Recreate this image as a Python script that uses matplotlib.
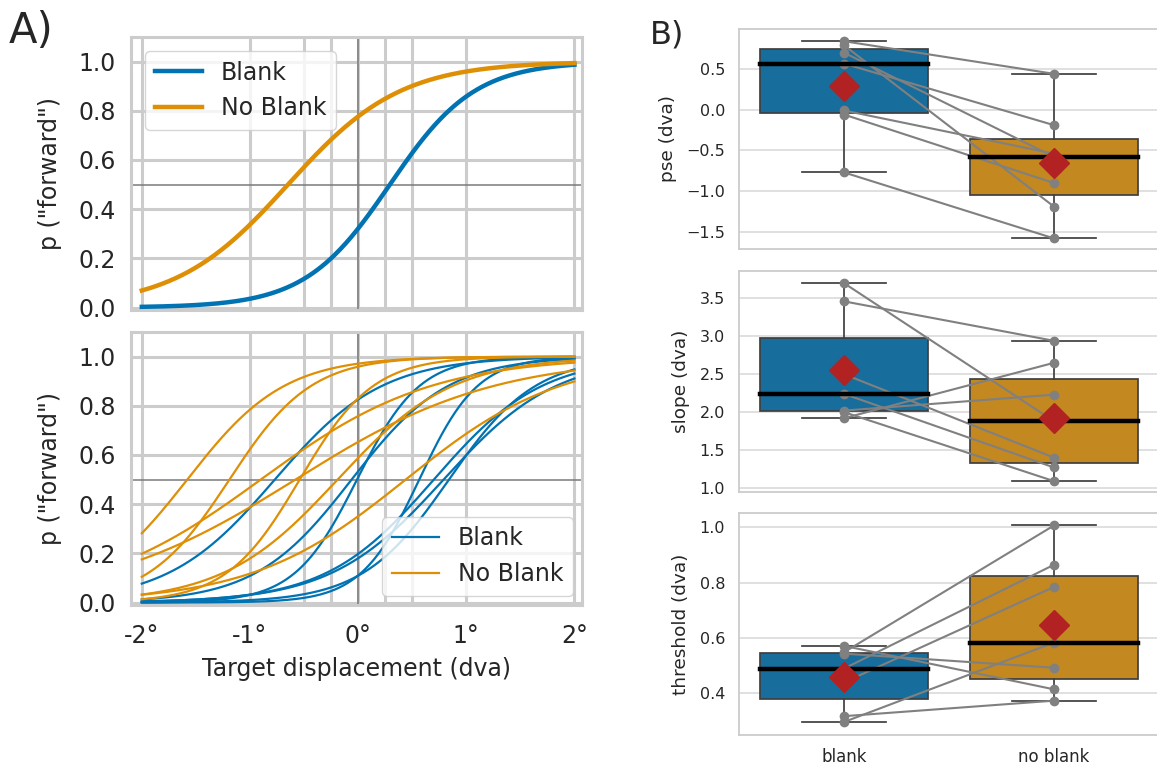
import numpy as np
import matplotlib
matplotlib.use("Agg")
import matplotlib.pyplot as plt
import matplotlib.ticker as mticker
import colorsys

# ---------------- data ----------------
conditions = ["blank", "no blank"]
# per-participant psychometric fit parameters (7 participants, paired)
pse_blank = [0.565, -0.01, 0.84, -0.06, -0.77, 0.70, 0.79]
pse_noblank = [-0.19, -0.54, 0.44, -0.90, -1.58, -0.58, -1.19]
slope_blank = [3.70, 3.46, 2.50, 2.24, 2.02, 2.00, 1.92]
slope_noblank = [1.88, 2.94, 1.40, 1.27, 2.23, 1.09, 2.65]
thr_blank = [0.297, 0.318, 0.44, 0.49, 0.544, 0.549, 0.572]
thr_noblank = [0.584, 0.374, 0.785, 0.865, 0.493, 1.007, 0.415]
x_ticks = [-2, -1, 0, 1, 2]
x_minor = [-0.5, -0.25, 0.25, 0.5]
y_ticks_p = [0.0, 0.2, 0.4, 0.6, 0.8, 1.0]

# ---------------- style ----------------
BLUE = "#0173b2"
ORANGE = "#de8f05"
TXT = "#262626"
GRID = "#cccccc"


def desat(c, prop=0.75):
    r, g, b = matplotlib.colors.to_rgb(c)
    h, l, s = colorsys.rgb_to_hls(r, g, b)
    return colorsys.hls_to_rgb(h, l, s * prop)


plt.rcParams["font.family"] = ["DejaVu Sans"]
plt.rcParams["axes.axisbelow"] = True
plt.rcParams["axes.unicode_minus"] = True

W, H = 1157, 767
fig = plt.figure(figsize=(W / 100, H / 100), dpi=100)


def ax_px(left, top, right, bottom):
    return fig.add_axes([left / W, 1 - bottom / H, (right - left) / W, (bottom - top) / H])


def logistic(x, pse, slope):
    return 1.0 / (1.0 + np.exp(-slope * (x - pse)))


xs = np.linspace(-2, 2, 400)

axA1 = ax_px(131, 37, 582, 310)
axA2 = ax_px(131, 332, 582, 605)

for ax in (axA1, axA2):
    ax.set_xlim(-2.1, 2.07)
    ax.set_ylim(-0.01, 1.1)
    ax.set_xticks(x_ticks)
    ax.set_xticks(x_minor, minor=True)
    ax.set_yticks(y_ticks_p)
    ax.grid(True, which="both", color=GRID, lw=2.2)
    ax.tick_params(which="both", length=0, labelsize=17, colors=TXT)
    ax.tick_params(axis="y", pad=11)
    ax.tick_params(axis="x", pad=14)
    for sp in ax.spines.values():
        sp.set_color(GRID)
        sp.set_linewidth(2.2)
    ax.axvline(0, color="#7a7a7a", lw=1.1, zorder=1.5)
    ax.axhline(0.5, color="#7a7a7a", lw=1.1, zorder=1.5)
    ax.set_ylabel('p ("forward")', fontsize=17, color=TXT, labelpad=12)
    ax.yaxis.set_major_formatter(mticker.FormatStrFormatter("%.1f"))

# top: group-average curves from mean parameters
mb_pse, mb_slope = np.mean(pse_blank), np.mean(slope_blank)
mn_pse, mn_slope = np.mean(pse_noblank), np.mean(slope_noblank)
axA1.plot(xs, logistic(xs, mb_pse, mb_slope), color=BLUE, lw=3.2, label="Blank", zorder=3)
axA1.plot(xs, logistic(xs, mn_pse, mn_slope), color=ORANGE, lw=3.2, label="No Blank", zorder=3)
axA1.set_xticklabels([])
leg1 = axA1.legend(loc="upper left", fontsize=17, frameon=True, borderaxespad=0.6)
leg1.get_frame().set_edgecolor(GRID)
for t in leg1.get_texts():
    t.set_color(TXT)

# bottom: individual curves
for i in range(len(pse_blank)):
    axA2.plot(xs, logistic(xs, pse_blank[i], slope_blank[i]), color=BLUE, lw=1.6,
              label="Blank" if i == 0 else None, zorder=3)
for i in range(len(pse_noblank)):
    axA2.plot(xs, logistic(xs, pse_noblank[i], slope_noblank[i]), color=ORANGE, lw=1.6,
              label="No Blank" if i == 0 else None, zorder=3)
axA2.xaxis.set_major_formatter(mticker.FuncFormatter(lambda v, p: f"{v:.0f}°"))
axA2.set_xlabel("Target displacement (dva)", fontsize=17, color=TXT, labelpad=6)
leg2 = axA2.legend(loc="lower right", fontsize=17, frameon=True, borderaxespad=0.4)
leg2.get_frame().set_edgecolor(GRID)
for t in leg2.get_texts():
    t.set_color(TXT)

fig.text(9 / W, 1 - 10 / H, "A)", fontsize=30, color=TXT, ha="left", va="top")
fig.text(650 / W, 1 - 20 / H, "B)", fontsize=23, color=TXT, ha="left", va="top")

# ---------------- panel B ----------------
panels = [
    ("pse (dva)", pse_blank, pse_noblank, (29, 249), (-1.71, 0.99), [-1.5, -1.0, -0.5, 0.0, 0.5]),
    ("slope (dva)", slope_blank, slope_noblank, (271, 492), (0.947, 3.86), [1.0, 1.5, 2.0, 2.5, 3.0, 3.5]),
    ("threshold (dva)", thr_blank, thr_noblank, (513, 735), (0.25, 1.052), [0.4, 0.6, 0.8, 1.0]),
]
box_cols = [desat(BLUE), desat(ORANGE)]
EDGE = "#3f3f3f"

for k, (lab, vb, vn, (top, bot), ylim, yt) in enumerate(panels):
    ax = ax_px(739, top, 1159, bot)
    bp = ax.boxplot([vb, vn], positions=[0, 1], widths=0.8, patch_artist=True,
                    showfliers=False, whis=1.5,
                    boxprops=dict(edgecolor=EDGE, linewidth=1.25),
                    whiskerprops=dict(color=EDGE, linewidth=1.25),
                    capprops=dict(color=EDGE, linewidth=1.25),
                    medianprops=dict(color="black", linewidth=3.2, solid_capstyle="projecting"),
                    zorder=2)
    for patch, c in zip(bp["boxes"], box_cols):
        patch.set_facecolor(c)
    for m in bp["medians"]:
        m.set_zorder(4)
    for i in range(len(vb)):
        ax.plot([0, 1], [vb[i], vn[i]], color="gray", lw=1.5, marker="o", ms=6,
                zorder=3)
    ax.plot([0, 1], [np.mean(vb), np.mean(vn)], ls="none", marker="D", ms=15,
            color="#b22222", zorder=5)
    ax.set_xlim(-0.5, 1.5)
    ax.set_ylim(*ylim)
    ax.set_yticks(yt)
    ax.yaxis.set_major_formatter(mticker.FuncFormatter(
        lambda v, p: f"{v:.1f}".replace("-", "\u2212")))
    ax.yaxis.grid(True, color="#dddddd", lw=1.3)
    ax.xaxis.grid(False)
    ax.tick_params(length=0, labelsize=11.5, colors=TXT)
    ax.tick_params(axis="y", pad=10)
    for sp in ax.spines.values():
        sp.set_color(GRID)
        sp.set_linewidth(1.3)
    ax.set_ylabel(lab, fontsize=13.3, color=TXT, labelpad=7)
    ax.set_xticks([0, 1])
    if k == 2:
        ax.set_xticklabels(conditions, fontsize=12)
        ax.tick_params(axis="x", pad=9)
    else:
        ax.set_xticklabels([])

fig.savefig("out.png", dpi=100)
